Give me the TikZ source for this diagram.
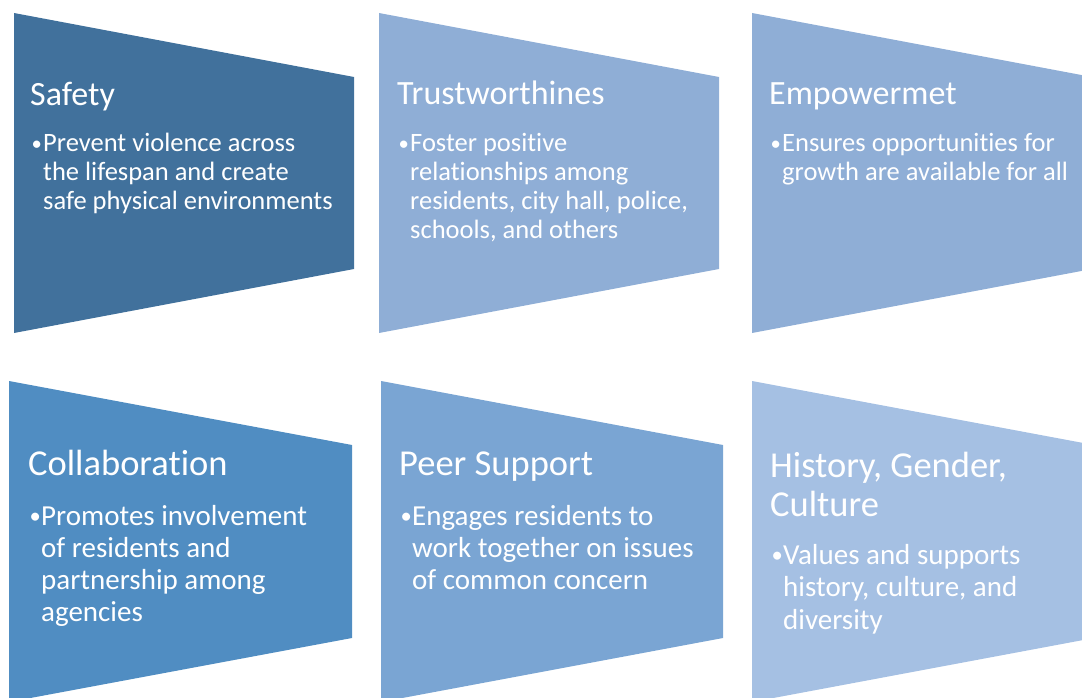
\documentclass[tikz,border=0pt]{standalone}
\usepackage{fontspec}
\setmainfont{Carlito}[Ligatures=NoCommon]

\definecolor{safetyblue}{RGB}{65,113,156}
\definecolor{paleblue}{RGB}{143,174,214}
\definecolor{midblue}{RGB}{80,141,194}
\definecolor{softblue}{RGB}{122,165,211}
\definecolor{lightblue}{RGB}{165,192,227}

% bullet paragraph with a hanging indent; #1 size, #2 line skip, #3 lines
\newcommand{\bulletlines}[3]{%
  \parbox[t]{330pt}{\fontsize{#1}{#2}\selectfont\raggedright
    \let\\\newline
    \hangindent=13pt\hangafter=1\noindent
    \makebox[13pt][l]{\hspace{1.5pt}\raisebox{0.06em}{\scalebox{0.78}{•}}}#3}}

\tikzset{
  panel/.style={fill=#1, draw=none},
  ttl/.style={anchor=base west, inner sep=0pt, text=white, align=left},
  toptitle/.style={ttl, font=\fontsize{34}{37}\selectfont},
  bottitle/.style={ttl, font=\fontsize{36.5}{40}\selectfont},
  bodytxt/.style={anchor=base west, inner sep=0pt, text=white},
}

\begin{document}
\begin{tikzpicture}[x=1pt, y=-1pt]
  \useasboundingbox (0,0) rectangle (1082,698);
  \clip (0,0) rectangle (1082,698);

  % top row of panels
  \path[panel=safetyblue] (14,13) -- (354,77) -- (354,269) -- (14,333) -- cycle;
  \path[panel=paleblue]   (379,13) -- (719,77) -- (719,269) -- (379,333) -- cycle;
  \path[panel=paleblue]   (752,13) -- (1092,77) -- (1092,269) -- (752,333) -- cycle;

  % bottom row of panels
  \path[panel=midblue]    (9,381) -- (352,445) -- (352,638) -- (9,702) -- cycle;
  \path[panel=softblue]   (381,381) -- (723,445) -- (723,638) -- (381,702) -- cycle;
  \path[panel=lightblue]  (752,381) -- (1094,445) -- (1094,638) -- (752,702) -- cycle;

  % top row texts
  \node[toptitle] (safetyT) at (30,106) {Safety};
  \node[bodytxt] (safetyB) at (30,152) {\bulletlines{26.5}{29}{Prevent violence across\\the lifespan and create\\safe physical environments}};

  \node[toptitle] (trustT) at (397,105) {Trustworthines};
  \node[bodytxt] (trustB) at (397,152) {\bulletlines{26.5}{29}{Foster positive\\relationships among\\residents, city hall, police,\\schools, and others}};

  \node[toptitle] (empT) at (769,105) {Empowermet};
  \node[bodytxt] (empB) at (769,152) {\bulletlines{26.5}{29}{Ensures opportunities for\\growth are available for all}};

  % bottom row texts
  \node[bottitle] (collabT) at (28,475) {Collaboration};
  \node[bodytxt] (collabB) at (28,525) {\bulletlines{29}{32}{Promotes involvement\\of residents and\\partnership among\\agencies}};

  \node[bottitle] (peerT) at (399,475) {Peer Support};
  \node[bodytxt] (peerB) at (399,525) {\bulletlines{29}{32}{Engages residents to\\work together on issues\\of common concern}};

  \node[bodytxt, text=white] (histT) at (770,477) {\parbox[t]{310pt}{\fontsize{36.5}{39.5}\selectfont\raggedright History, Gender,\\Culture}};
  \node[bodytxt] (histB) at (770,564) {\bulletlines{29}{32.5}{Values and supports\\history, culture, and\\diversity}};
\end{tikzpicture}
\end{document}
